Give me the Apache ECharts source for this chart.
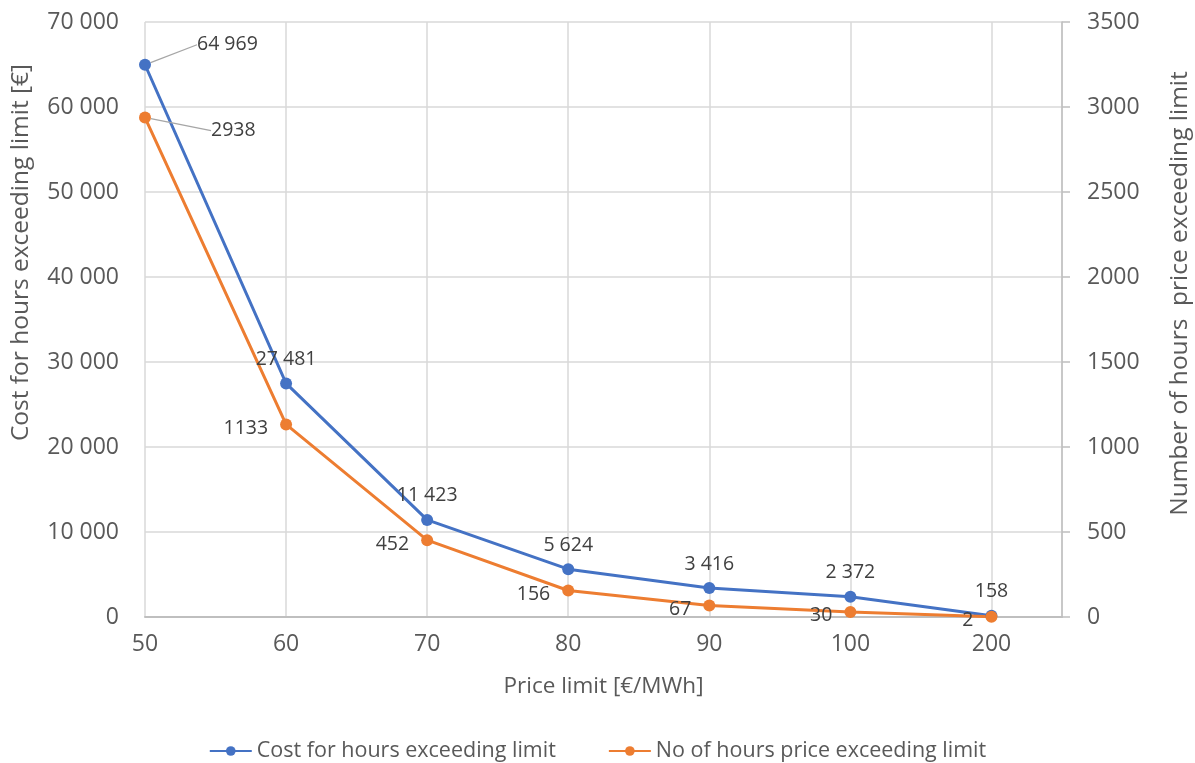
<!DOCTYPE html>
<html>
<head>
<meta charset="utf-8">
<script src="https://cdn.jsdelivr.net/npm/echarts@6/dist/echarts.min.js"></script>
<style>
html,body{margin:0;padding:0;background:#fff;}
#chart{width:1195px;height:763px;}
</style>
</head>
<body>
<div id="chart"></div>
<script>
const categories = ['50', '60', '70', '80', '90', '100', '200'];
const costValues = [64969, 27481, 11423, 5624, 3416, 2372, 158];
const hoursValues = [2938, 1133, 452, 156, 67, 30, 2];
const leftTicks = [0, 70000, 10000];
const rightTicks = [0, 3500, 500];

const FONT = 'Open Sans';
const TXT = '#595959';
const LBL = '#404040';
const fmt = v => String(v).replace(/\B(?=(\d{3})+(?!\d))/g, ' ');

const costData = costValues.map((v, i) => {
  const d = { value: [i, v] };
  if (i === 0) {
    d.label = { position: 'right' };
    d.labelLine = { show: true };
  }
  return d;
});
const hoursData = hoursValues.map((v, i) => {
  const d = { value: [i, v] };
  if (i === 0) {
    d.label = { position: 'right' };
    d.labelLine = { show: true };
  }
  return d;
});

// callout: shift the first label and draw an elbow leader line computed from the rects
function makeLeader(dx, dy, otherDy) {
  return function (params) {
    if (params.dataIndex !== 0) return { dy: otherDy };
    const r = params.rect, l = params.labelRect;
    const px = r.x + r.width / 2, py = r.y + r.height / 2;
    const lx = l.x + dx, ly = l.y + l.height / 2 + dy;
    return {
      dx: dx, dy: dy,
      labelLinePoints: [[px, py], [lx - 14, ly], [lx - 4, ly]]
    };
  };
}

const chart = echarts.init(document.getElementById('chart'));
chart.setOption({
  animation: false,
  textStyle: { fontFamily: FONT },
  grid: { left: 145, right: 133, top: 22, bottom: 146, outerBoundsMode: 'none', containLabel: false },
  legend: {
    top: 735,
    left: 'center',
    itemWidth: 42,
    itemHeight: 12,
    itemGap: 52,
    textStyle: { fontFamily: FONT, fontSize: 21.5, color: TXT },
    data: ['Cost for hours exceeding limit', 'No of hours price exceeding limit']
  },
  xAxis: {
    type: 'value',
    min: 0, max: 6.5, interval: 1,
    name: 'Price limit [€/MWh]',
    nameLocation: 'middle',
    nameGap: 58,
    nameTextStyle: { fontFamily: FONT, fontSize: 22.5, color: TXT },
    axisLine: { show: true, lineStyle: { color: '#bfbfbf', width: 2 } },
    axisTick: { show: false },
    axisLabel: {
      fontFamily: FONT, fontSize: 23, color: TXT, margin: 16,
      formatter: v => Number.isInteger(v) ? categories[v] : ''
    },
    splitLine: { show: true, lineStyle: { color: '#d9d9d9', width: 1.5 } }
  },
  yAxis: [{
    type: 'value',
    min: leftTicks[0], max: leftTicks[1], interval: leftTicks[2],
    name: 'Cost for hours exceeding limit [€]',
    nameLocation: 'middle',
    nameGap: 111,
    nameTextStyle: { fontFamily: FONT, fontSize: 24.5, color: TXT, padding: [0, 0, 0, 134] },
    axisLine: { show: false },
    axisTick: { show: false },
    axisLabel: { fontFamily: FONT, fontSize: 23, color: TXT, margin: 26, formatter: fmt },
    splitLine: { show: true, lineStyle: { color: '#d9d9d9', width: 1.5 } }
  }, {
    type: 'value',
    position: 'right',
    min: rightTicks[0], max: rightTicks[1], interval: rightTicks[2],
    name: 'Number of hours  price exceeding limit',
    nameLocation: 'middle',
    nameGap: 106,
    nameTextStyle: { fontFamily: FONT, fontSize: 24.5, color: TXT, padding: [0, 0, 0, 52] },
    axisLine: { show: true, lineStyle: { color: '#bfbfbf', width: 1.5 } },
    axisTick: { show: true, inside: false, length: 8, lineStyle: { color: '#bfbfbf', width: 1.5 } },
    axisLabel: { fontFamily: FONT, fontSize: 23, color: TXT, margin: 25, formatter: v => String(v) },
    splitLine: { show: false }
  }],
  series: [{
    name: 'Cost for hours exceeding limit',
    type: 'line',
    yAxisIndex: 0,
    data: costData,
    symbol: 'circle',
    symbolSize: 12,
    lineStyle: { color: '#4472C4', width: 3 },
    itemStyle: { color: '#4472C4' },
    label: {
      show: true, position: 'top', distance: 8,
      fontFamily: FONT, fontSize: 19.5, color: LBL,
      formatter: p => fmt(p.value[1])
    },
    labelLine: { show: false, lineStyle: { color: '#a6a6a6', width: 1.3 } },
    labelLayout: makeLeader(38, -20, 0)
  }, {
    name: 'No of hours price exceeding limit',
    type: 'line',
    yAxisIndex: 1,
    data: hoursData,
    symbol: 'circle',
    symbolSize: 12,
    lineStyle: { color: '#ED7D31', width: 3 },
    itemStyle: { color: '#ED7D31' },
    label: {
      show: true, position: 'left', distance: 12,
      fontFamily: FONT, fontSize: 19.5, color: LBL,
      formatter: p => String(p.value[1])
    },
    labelLine: { show: false, lineStyle: { color: '#a6a6a6', width: 1.3 } },
    labelLayout: makeLeader(48, 13, 4)
  }]
});
</script>
</body>
</html>
